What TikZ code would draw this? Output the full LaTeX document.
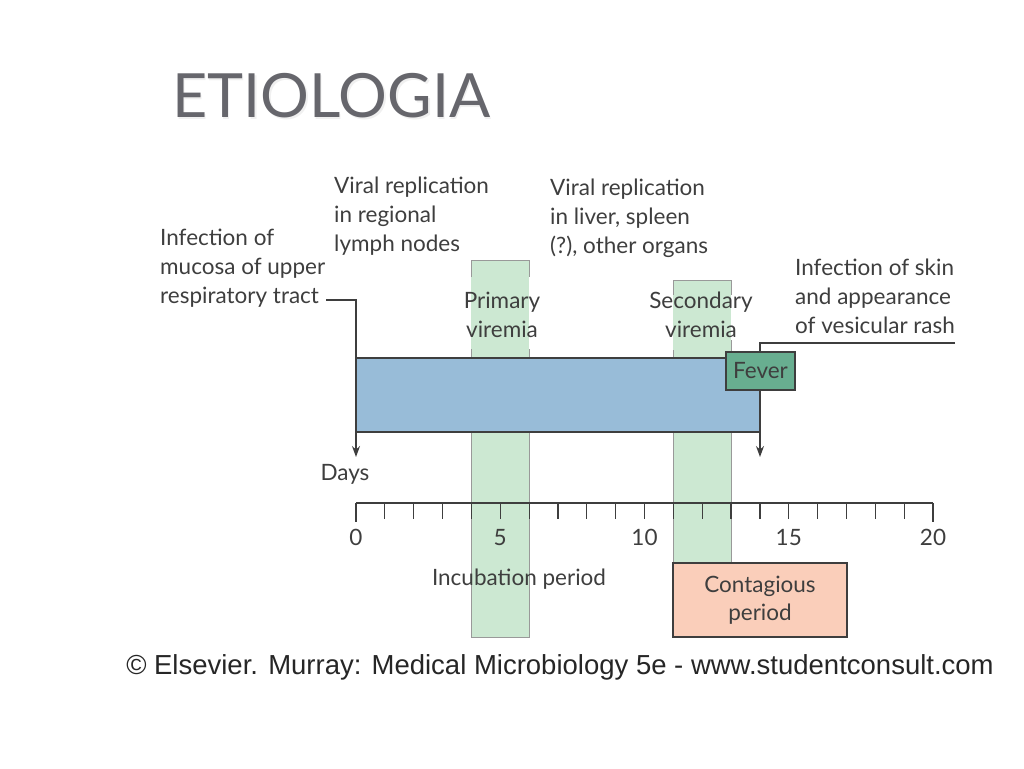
\documentclass[tikz,border=0pt]{standalone}
\usepackage{fontspec}
\setmainfont{Lato}
\newfontfamily\creditfont{Liberation Sans}
\usetikzlibrary{arrows.meta, positioning, calc}

\definecolor{barblue}{RGB}{152,188,216}
\definecolor{bandgreen}{RGB}{204,232,210}
\definecolor{fevergreen}{RGB}{104,174,144}
\definecolor{salmon}{RGB}{250,206,186}
\definecolor{inkgray}{RGB}{62,62,62}
\definecolor{titlegray}{RGB}{102,102,108}

\begin{document}
\begin{tikzpicture}[
    x=1pt, y=-1pt,
    >=Stealth,
    every node/.style={inner sep=0pt, text=inkgray},
    lbl/.style={font=\fontsize{22.5}{29}\selectfont, align=left},
    small/.style={font=\fontsize{22.5}{29}\selectfont},
    box/.style={draw=inkgray, line width=1.2pt},
    bandline/.style={draw=gray!80, line width=1pt},
    tip/.style={-{Stealth[length=11pt, width=8pt]}, draw=inkgray, line width=1.3pt}
]
\useasboundingbox (0,0) rectangle (1024,768);

\node (TitleShadow) at (173.5,119) [anchor=base west, text=gray!12, font=\fontsize{61}{61}\selectfont] {ETIOLOGIA};
\node (Title) at (172,117) [anchor=base west, text=titlegray, font=\fontsize{61}{61}\selectfont] {ETIOLOGIA};

% green bands behind the bar
\fill[bandgreen] (471.4,260) rectangle (529.1,637);
\fill[bandgreen] (673.35,280) rectangle (731,563);

\draw[bandline] (471.4,277) |- (529.1,260) -- (529.1,277);
\draw[bandline] (471.4,349) -- (471.4,358);
\draw[bandline] (529.1,349) -- (529.1,358);
\draw[bandline] (471.4,432) |- (529.1,637) -- (529.1,432);

\draw[bandline] (673.35,295) |- (731,280) -- (731,295);
\draw[bandline] (673.35,350) -- (673.35,358);
\draw[bandline] (731,340) -- (731,352);
\draw[bandline] (673.35,432) -- (673.35,563);
\draw[bandline] (731,432) -- (731,563);

\coordinate (MucosaEnd) at (326,300);
\coordinate (OnsetTip) at (356,457);
\coordinate (SkinEnd) at (955,343);
\coordinate (RashTip) at (760,457);

\node (Bar) at (356,395) [box, fill=barblue, anchor=west, minimum width=404pt, minimum height=74pt] {};
\draw[tip] (MucosaEnd) -| (OnsetTip);
\draw[tip] (SkinEnd) -| (RashTip);

\node (Fever) at (760.5,371) [box, fill=fevergreen, minimum width=69pt, minimum height=38pt, small] {Fever};
\node (Contagious) at (760,600) [box, fill=salmon, minimum width=174pt, minimum height=74pt, align=center, font=\fontsize{22.5}{28}\selectfont] {Contagious\\period};

\node (Mucosa) at (160,229) [lbl, anchor=north west] {Infection of\\mucosa of upper\\respiratory tract};
\node (Lymph) at (334,177) [lbl, anchor=north west] {Viral replication\\in regional\\lymph nodes};
\node (Liver) at (550,179) [lbl, anchor=north west] {Viral replication\\in liver, spleen\\(?), other organs};
\node (Skin) at (795,259) [lbl, anchor=north west] {Infection of skin\\and appearance\\of vesicular rash};
\node (Primary) at (502,292) [lbl, anchor=north, align=center] {Primary\\viremia};
\node (Secondary) at (701,292) [lbl, anchor=north, align=center] {Secondary\\viremia};

\node (Days) at (345,474) [small] {Days};

\draw[inkgray, line width=1.2pt] (356,503) -- (933,503);
\foreach \d in {0,...,20}
    \draw[inkgray, line width=1.2pt] (356+\d*28.85,503) -- ++(0,16);
\draw[inkgray, line width=1.2pt] (356,503) -- ++(0,19);
\draw[inkgray, line width=1.2pt] (933,503) -- ++(0,19);
\foreach \d in {0,5,10,15,20}
    \node (Day\d) at (356+\d*28.85,545) [small, anchor=base] {\d};

\node (Incubation) at (519,579) [small] {Incubation period};

\node (Credit) at (560,667) [text=black!85, font=\creditfont\fontsize{27.5}{27.5}\selectfont] {© Elsevier. Murray: Medical Microbiology 5e - www.studentconsult.com};

\end{tikzpicture}
\end{document}
